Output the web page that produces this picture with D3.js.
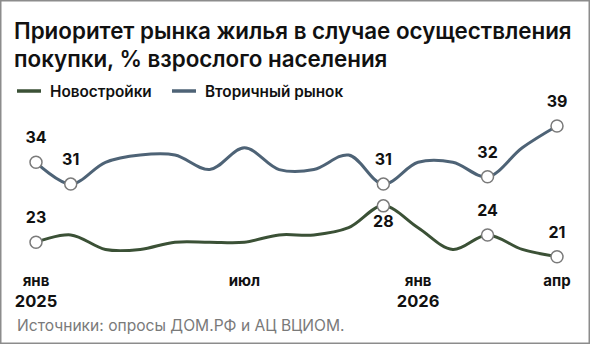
<html lang='ru'>
	<head>
		<meta charset="utf-8">
		<title>Приоритет рынка жилья</title>
		<script src="https://d3js.org/d3.v7.min.js" charset="utf-8"></script>
		<style type="text/css">
			body{
				margin: 0;
				font-family: Inter, "Noto Sans", sans-serif;
				background: white;
			}
			.lbl{
				font-weight: 700;
				font-size: 16px;
				fill: #111;
			}
		</style>
	</head>
	<body>
		<div class="main"></div>
		<script>
			// monthly survey values, янв 2025 .. апр 2026
			var months = ['янв 2025','фев','мар','апр','май','июн','июл','авг','сен','окт','ноя','дек','янв 2026','фев','мар','апр']
			var newBuild = [23, 24, 22, 22, 23, 23, 23, 24, 24, 25, 28, 25, 22, 24, 22, 21]
			var resale   = [34, 31, 34, 35, 35, 33, 36, 33, 33, 35, 31, 34, 34, 32, 36, 39]
			// which points carry a value label
			var labelled = [0, 1, 10, 13, 15]
			var newLabelled = [0, 10, 13, 15]
			var tickIdx = [0, 6, 11, 15]
			var tickLines = [['янв', '2025'], ['июл'], ['янв', '2026'], ['апр']]

			var width = 590
			var height = 344

			var svg = d3.select(".main")
				.append("svg")
				.attr("width", width)
				.attr("height", height)

			svg.append("rect")
				.attr("x", 0.75).attr("y", 0.75)
				.attr("width", width - 1.5).attr("height", height - 1.5)
				.attr("fill", "white")
				.attr("stroke", "#8c8c8c")
				.attr("stroke-width", 1.5)

			// title, fitted to the reference width
			var title = svg.append("text")
				.attr("x", 14).attr("y", 39)
				.attr("font-weight", 600)
				.attr("fill", "#111")
			title.append("tspan").attr("x", 14).attr("y", 39).text("Приоритет рынка жилья в случае осуществления")
			title.append("tspan").attr("x", 14).attr("y", 67).text("покупки, % взрослого населения")
			title.attr("font-size", 20)
			var w = title.select("tspan").node().getComputedTextLength()
			title.attr("font-size", 20 * 558 / w)

			var x = d3.scaleLinear()
				.domain([0, months.length - 1])
				.range([36, 557])

			var y = d3.scaleLinear()
				.domain([21, 39])
				.range([256.7, 126])

			var series = [
				{name: "Новостройки", values: newBuild, color: "#3b5136", labels: newLabelled},
				{name: "Вторичный рынок", values: resale, color: "#4e6376", labels: labelled}
			]

			// legend
			var legendX = [17, 172]
			series.forEach(function(s, k){
				svg.append("line")
					.attr("x1", legendX[k]).attr("x2", legendX[k] + 24)
					.attr("y1", 91).attr("y2", 91)
					.attr("stroke", s.color)
					.attr("stroke-width", 3.5)
				svg.append("text")
					.attr("x", legendX[k] + 33).attr("y", 96.5)
					.attr("font-size", 15.3)
					.attr("font-weight", 600)
					.attr("fill", "#111")
					.text(s.name)
			})

			var line = d3.line()
				.x(function(d, i){ return x(i) })
				.y(function(d){ return y(d) })
				.curve(d3.curveCatmullRom.alpha(0.5))

			var g = svg.append("g")

			series.forEach(function(s){
				g.append("path")
					.attr("d", line(s.values))
					.attr("fill", "none")
					.attr("stroke", s.color)
					.attr("stroke-width", 3)
			})

			series.forEach(function(s){
				g.selectAll(null)
					.data(s.labels)
					.enter()
					.append("circle")
					.attr("cx", function(i){ return x(i) })
					.attr("cy", function(i){ return y(s.values[i]) })
					.attr("r", 6)
					.attr("fill", "white")
					.attr("stroke", "#7a7a7a")
					.attr("stroke-width", 1.5)

				g.selectAll(null)
					.data(s.labels)
					.enter()
					.append("text")
					.attr("class", "lbl")
					.attr("text-anchor", "middle")
					.attr("x", function(i){ return x(i) })
					.attr("y", function(i){
						// the Nov point of new builds sits under the resale point
						if (s.name == "Новостройки" && i == 10) return y(s.values[i]) + 21
						return y(s.values[i]) - 19
					})
					.text(function(i){ return s.values[i] })
			})

			// x axis labels
			var ticks = svg.append("g")
			tickIdx.forEach(function(t, k){
				var txt = ticks.append("text")
					.attr("text-anchor", "middle")
					.attr("font-size", 15)
					.attr("font-weight", 700)
					.attr("fill", "#111")
				tickLines[k].forEach(function(l, j){
					txt.append("tspan")
						.attr("x", x(t))
						.attr("y", 286 + j * 21)
						.attr("font-size", j == 0 ? 15 : 16.5)
						.text(l)
				})
			})

			svg.append("text")
				.attr("x", 17).attr("y", 331)
				.attr("font-size", 15.6)
				.attr("fill", "#7a7a7a")
				.text("Источники: опросы ДОМ.РФ и АЦ ВЦИОМ.")
		</script>
	</body>
</html>
